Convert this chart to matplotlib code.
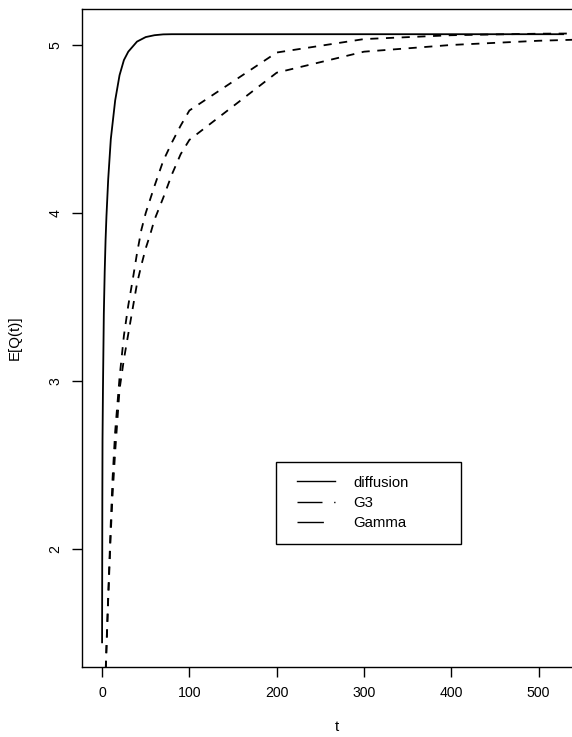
import matplotlib
matplotlib.use("Agg")
import matplotlib.pyplot as plt
from matplotlib.lines import Line2D
from matplotlib.legend_handler import HandlerLine2D

plt.rcParams['font.family'] = ['Liberation Sans', 'DejaVu Sans']

# expected queue length curves
t_diff = [0, 0.3, 0.5, 1, 2, 3, 4, 5, 7, 10, 15, 20, 25, 30, 40, 50, 60, 70, 80, 100, 200, 300, 400, 528]
q_diff = [1.445, 2.30, 2.65, 2.95, 3.40, 3.65, 3.84, 3.98, 4.20, 4.44, 4.67, 4.82, 4.91, 4.96, 5.02, 5.047,
          5.058, 5.063, 5.064, 5.064, 5.064, 5.064, 5.064, 5.064]

t_dash = [3, 5, 7, 10, 12, 15, 20, 25, 30, 35, 40, 45, 50, 55, 60, 70, 80, 90, 100, 200, 300, 400, 500, 600]
q_g3 = [1.10, 1.42, 1.72, 2.16, 2.42, 2.70, 3.02, 3.27, 3.45, 3.60, 3.76, 3.90, 4.00, 4.08, 4.16, 4.31,
        4.42, 4.52, 4.61, 4.955, 5.035, 5.058, 5.067, 5.07]
q_gamma = [1.10, 1.40, 1.70, 2.10, 2.32, 2.58, 2.95, 3.13, 3.28, 3.43, 3.58, 3.69, 3.79, 3.87, 3.96, 4.09,
           4.23, 4.35, 4.435, 4.835, 4.96, 5.0, 5.025, 5.04]

legend_labels = ['diffusion', 'G3', 'Gamma']

W, H = 572, 737
fig = plt.figure(figsize=(W / 100, H / 100), dpi=100)
# right part of the box is cut off in the original scan
ax = fig.add_axes([82 / W, (H - 666.7) / H, 509 / W, (666.7 - 9) / H])

ax.plot(t_diff, q_diff, color='black', lw=1.3)
ax.plot(t_dash, q_g3, color='black', lw=1.3, dashes=(4.5, 4.2))
ax.plot(t_dash, q_gamma, color='black', lw=1.3, dashes=(4.5, 4.2))

ax.set_xlim(-23, 560)
ax.set_ylim(1.30, 5.214)
ax.set_xticks([0, 100, 200, 300, 400, 500])
ax.set_yticks([2, 3, 4, 5])
ax.tick_params(length=7, width=1, labelsize=10.2, pad=7, color='black')
for lab in ax.get_yticklabels():
    lab.set_rotation(90)
    lab.set_va('center')
for s in ax.spines.values():
    s.set_linewidth(1.0)

ax.set_xlabel('t', fontsize=10.8, labelpad=14)
ax.set_ylabel('E[Q(t)]', fontsize=10.8, labelpad=19)

# legend as in the original (handle styles differ from the curves)
handles = [Line2D([], [], color='black', lw=1.0),
           Line2D([], [], color='black', lw=1.0, dashes=(18, 8.4, 1.2, 40)),
           Line2D([], [], color='black', lw=1.0, dashes=(19, 40))]
leg = ax.legend(handles, legend_labels, loc='upper left',
                bbox_to_anchor=(276 / W, (H - 543) / H, 185 / W, 81 / H),
                bbox_transform=fig.transFigure, mode='expand', borderaxespad=0,
                fontsize=10.7, borderpad=0.92, labelspacing=0.42, handlelength=3.05,
                handletextpad=1.21, fancybox=False, framealpha=1, edgecolor='black',
                handler_map={Line2D: HandlerLine2D(xpad=0.49)})
leg.get_frame().set_linewidth(1.0)

fig.savefig('out.png', dpi=100)
